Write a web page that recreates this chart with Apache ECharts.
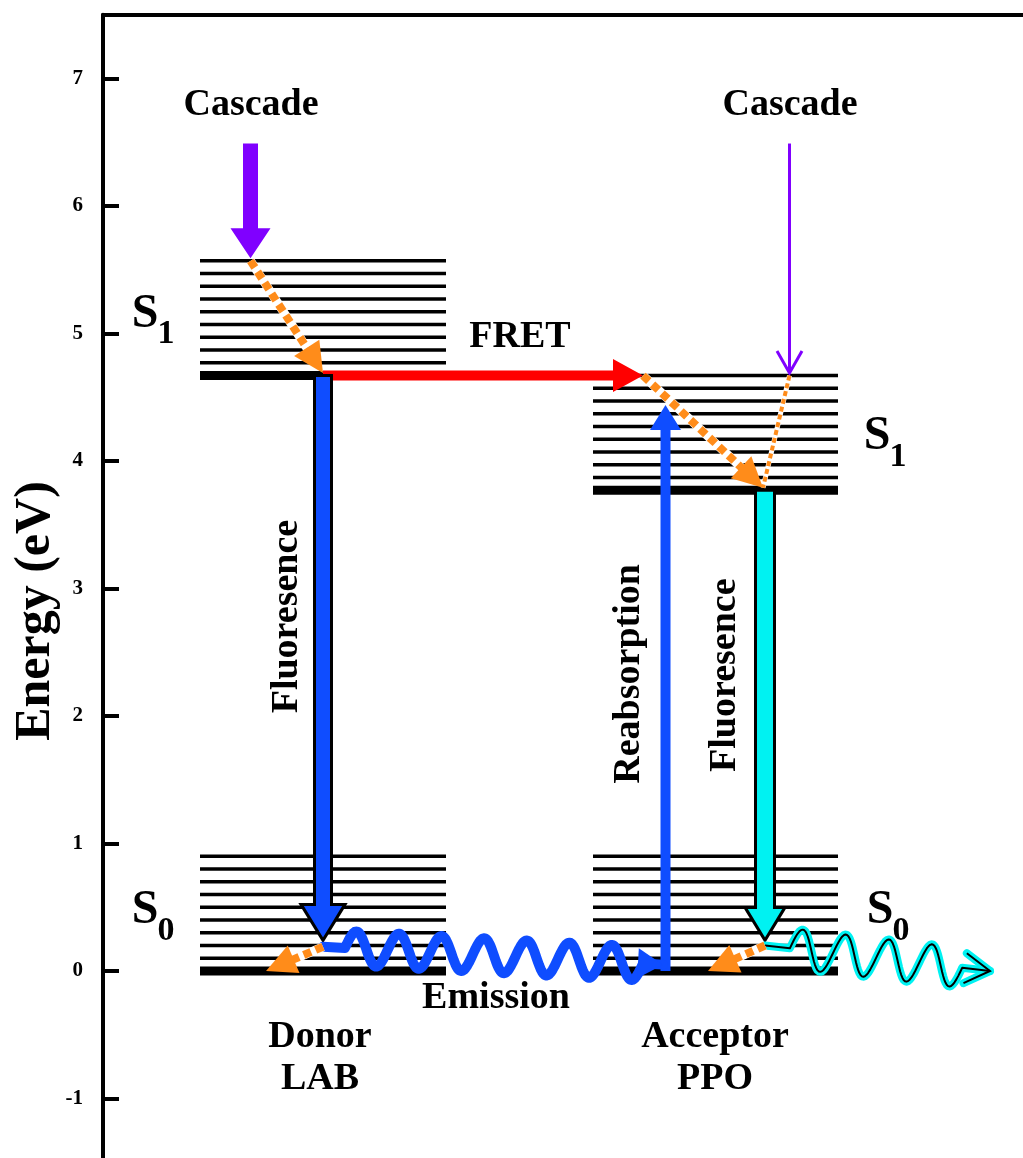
<!DOCTYPE html>
<html><head><meta charset="utf-8">
<script src="https://cdn.jsdelivr.net/npm/echarts@6/dist/echarts.min.js"></script>
<style>html,body{margin:0;padding:0;background:#fff}#c{width:1023px;height:1158px}</style>
</head><body><div id="c"></div>
<script>
// ---------- data ----------
const yTicks = [-1, 0, 1, 2, 3, 4, 5, 6, 7];
const donorX = [0.97, 3.43];
const acceptorX = [4.90, 7.35];
const donorS1 = [4.67, 4.77, 4.87, 4.97, 5.07, 5.17, 5.27, 5.37, 5.47, 5.57];
const donorS0 = [0.00, 0.10, 0.20, 0.30, 0.40, 0.50, 0.60, 0.70, 0.80, 0.90];
const acceptorS1 = [3.77, 3.87, 3.97, 4.07, 4.17, 4.27, 4.37, 4.47, 4.57, 4.67];
const acceptorS0 = [0.00, 0.10, 0.20, 0.30, 0.40, 0.50, 0.60, 0.70, 0.80, 0.90];

// transitions: [xFrom, eFrom, xTo, eTo]
const cascadeDonor = [[1.475, 6.49, 1.475, 5.59]];
const cascadeAcceptor = [[6.865, 6.49, 6.865, 4.69]];
const fret = [[2.20, 4.67, 5.40, 4.67]];
const relaxation = [[1.475, 5.57, 2.20, 4.69], [5.40, 4.67, 6.60, 3.79], [2.20, 0.19, 1.63, 0.00], [6.62, 0.20, 6.05, 0.00]];
const relaxationThin = [[6.865, 4.67, 6.60, 3.79]];
const donorFluor = [[2.20, 4.67, 2.20, 0.24]];
const acceptorFluor = [[6.62, 3.77, 6.62, 0.24]];
const reabsorption = [[5.625, 0.00, 5.625, 4.44]];
const donorEmission = [[2.20, 0.19, 5.60, 0.05]];
const acceptorEmission = [[6.62, 0.20, 8.87, 0.00]];

const horizontalLabels = [['Cascade', 1.48, 6.79], ['Cascade', 6.87, 6.79], ['FRET', 4.17, 4.97], ['Emission', 3.93, -0.21],
  ['Donor', 2.17, -0.52], ['LAB', 2.17, -0.85], ['Acceptor', 6.12, -0.52], ['PPO', 6.12, -0.85]];
const verticalLabels = [['Fluoresence', 1.84, 2.78], ['Reabsorption', 5.26, 2.33], ['Fluoresence', 6.22, 2.32]];
const stateLabels = [['1', 0.42, 5.15], ['0', 0.42, 0.47], ['1', 7.74, 4.19], ['0', 7.77, 0.47]];

// ---------- drawing helpers ----------
const FONT = "'Liberation Serif','Times New Roman',serif";
function vec(p1, p2) { const dx = p2[0] - p1[0], dy = p2[1] - p1[1]; const L = Math.hypot(dx, dy); return { L, d: [dx / L, dy / L], n: [-dy / L, dx / L] }; }
function add(p, v, s) { return [p[0] + v[0] * s, p[1] + v[1] * s]; }
function ends(api) { return [api.coord([api.value(0), api.value(1)]), api.coord([api.value(2), api.value(3)])]; }
function arrowPts(p1, p2, w, hw, hl) {
  const { d, n } = vec(p1, p2); const b = add(p2, d, -hl);
  return [add(p1, n, w / 2), add(b, n, w / 2), add(b, n, hw / 2), p2, add(b, n, -hw / 2), add(b, n, -w / 2), add(p1, n, -w / 2)];
}
function headPts(p2, d, n, hw, hl) { const b = add(p2, d, -hl); return [add(b, n, hw / 2), p2, add(b, n, -hw / 2)]; }

function solidArrow(data, o) {
  return { type: 'custom', coordinateSystem: 'cartesian2d', silent: true, z: o.z, data,
    renderItem(params, api) {
      const [p1, p2] = ends(api);
      return { type: 'polygon', shape: { points: arrowPts(p1, p2, o.w, o.hw, o.hl) },
        style: { fill: o.color, stroke: o.outline || null, lineWidth: o.outline ? 3 : 0, lineJoin: 'miter' } };
    } };
}
function dashedArrow(data, o) {
  return { type: 'custom', coordinateSystem: 'cartesian2d', silent: true, z: o.z, data,
    renderItem(params, api) {
      const [p1, p2] = ends(api); const { d, n } = vec(p1, p2);
      const e = o.hl ? add(p2, d, -o.hl * 0.7) : p2;
      const ch = [
        { type: 'line', shape: { x1: p1[0], y1: p1[1], x2: e[0], y2: e[1] }, style: { stroke: '#fff', lineWidth: o.w + 1 } },
        { type: 'line', shape: { x1: p1[0], y1: p1[1], x2: e[0], y2: e[1] }, style: { stroke: '#ff8c1a', lineWidth: o.w, lineDash: o.dash } }
      ];
      if (o.hl) ch.push({ type: 'polygon', shape: { points: headPts(p2, d, n, o.hw, o.hl) }, style: { fill: '#ff8c1a' } });
      return { type: 'group', children: ch };
    } };
}
function openArrow(data, o) {
  return { type: 'custom', coordinateSystem: 'cartesian2d', silent: true, z: o.z, data,
    renderItem(params, api) {
      const [p1, p2] = ends(api); const { d, n } = vec(p1, p2);
      return { type: 'group', children: [
        { type: 'line', shape: { x1: p1[0], y1: p1[1], x2: p2[0], y2: p2[1] }, style: { stroke: o.color, lineWidth: o.w } },
        { type: 'polyline', shape: { points: headPts(p2, d, n, o.hw, o.hl) }, style: { stroke: o.color, lineWidth: o.w, fill: null, lineJoin: 'miter' } }
      ] };
    } };
}
function wavePts(p1, p2, lead, tail, period, amp) {
  const { L, d, n } = vec(p1, p2);
  const wl = L - lead - tail;
  const nHalf = Math.max(1, Math.round(wl / (period / 2)));
  const per = 2 * wl / nHalf;
  const pts = [p1, add(p1, d, lead)];
  const steps = Math.ceil(wl / 1.5);
  for (let i = 1; i <= steps; i++) {
    const s = wl * i / steps;
    pts.push(add(add(p1, d, lead + s), n, -amp * Math.sin(2 * Math.PI * s / per)));
  }
  pts.push(p2);
  return pts;
}
function waveArrow(data, o) {
  return { type: 'custom', coordinateSystem: 'cartesian2d', silent: true, z: o.z, data,
    renderItem(params, api) {
      const [p1, p2] = ends(api); const { d, n } = vec(p1, p2);
      const pts = wavePts(p1, p2, o.lead, o.tail, o.period, o.amp);
      const head = headPts(p2, d, n, o.hw, o.hl);
      const ch = [{ type: 'polyline', shape: { points: pts }, style: { stroke: o.color, lineWidth: o.w, fill: null, lineJoin: 'round', lineCap: 'round' } }];
      if (o.open) {
        ch.push({ type: 'polyline', shape: { points: head }, style: { stroke: o.color, lineWidth: o.w, fill: null, lineJoin: 'round', lineCap: 'round' } });
        ch.push({ type: 'polyline', shape: { points: pts }, style: { stroke: '#000', lineWidth: 2, fill: null, lineJoin: 'round' } });
        ch.push({ type: 'polyline', shape: { points: head }, style: { stroke: '#000', lineWidth: 2, fill: null } });
      } else {
        ch.push({ type: 'polygon', shape: { points: head }, style: { fill: o.color } });
      }
      return { type: 'group', children: ch };
    } };
}
function levelSeries(levels, range) {
  return { type: 'custom', coordinateSystem: 'cartesian2d', silent: true, z: 2,
    data: levels.map(e => [range[0], e, range[1], e]),
    renderItem(params, api) {
      const [p1, p2] = ends(api);
      return { type: 'line', shape: { x1: p1[0], y1: p1[1], x2: p2[0], y2: p2[1] },
        style: { stroke: '#000', lineWidth: params.dataIndex === 0 ? 9 : 3.5 } };
    } };
}
function textSeries(labels, rotation) {
  return { type: 'custom', coordinateSystem: 'cartesian2d', silent: true, z: 20,
    data: labels.map(l => [l[1], l[2]]),
    renderItem(params, api) {
      const p = api.coord([api.value(0), api.value(1)]);
      return { type: 'text', x: p[0], y: p[1], rotation,
        style: { text: labels[params.dataIndex][0], fill: '#000', fontSize: 38, fontWeight: 'bold', fontFamily: FONT, align: 'center', verticalAlign: 'middle' } };
    } };
}
function stateSeries(labels) {
  return { type: 'custom', coordinateSystem: 'cartesian2d', silent: true, z: 20,
    data: labels.map(l => [l[1], l[2]]),
    renderItem(params, api) {
      const p = api.coord([api.value(0), api.value(1)]);
      return { type: 'group', children: [
        { type: 'text', x: p[0], y: p[1], style: { text: 'S', fill: '#000', fontSize: 48, fontWeight: 'bold', fontFamily: FONT, align: 'center', verticalAlign: 'middle' } },
        { type: 'text', x: p[0] + 21, y: p[1] + 20, style: { text: labels[params.dataIndex][0], fill: '#000', fontSize: 34, fontWeight: 'bold', fontFamily: FONT, align: 'center', verticalAlign: 'middle' } }
      ] };
    } };
}

const chart = echarts.init(document.getElementById('c'), null, { renderer: 'canvas' });
chart.setOption({
  animation: false,
  backgroundColor: '#fff',
  grid: { left: 103, top: 14.75, right: -20, bottom: -4.25, containLabel: false, outerBoundsMode: 'none' },
  xAxis: { type: 'value', min: 0, max: 9.4, position: 'top',
    axisLine: { show: true, onZero: false, lineStyle: { color: '#000', width: 4 } },
    axisTick: { show: false }, axisLabel: { show: false }, splitLine: { show: false } },
  yAxis: { type: 'value', min: -1.5, max: 7.5,
    axisLine: { show: true, onZero: false, lineStyle: { color: '#000', width: 4 } },
    axisTick: { show: true, inside: true, length: 16, lineStyle: { color: '#000', width: 4 }, customValues: yTicks },
    axisLabel: { show: true, margin: 20, color: '#000', fontSize: 21, fontWeight: 'bold', fontFamily: FONT, customValues: yTicks },
    splitLine: { show: false } },
  graphic: [{ type: 'text', x: 36, y: 611, rotation: Math.PI / 2,
    style: { text: 'Energy (eV)', fill: '#000', fontSize: 50, fontWeight: 'bold', fontFamily: FONT, align: 'center', verticalAlign: 'middle' } }],
  series: [
    levelSeries(donorS1, donorX), levelSeries(donorS0, donorX),
    levelSeries(acceptorS1, acceptorX), levelSeries(acceptorS0, acceptorX),
    solidArrow(cascadeDonor, { color: '#8000ff', w: 15, hw: 40, hl: 30, z: 5 }),
    openArrow(cascadeAcceptor, { color: '#8000ff', w: 3, hw: 25, hl: 22, z: 5 }),
    solidArrow(fret, { color: '#ff0000', w: 10, hw: 33, hl: 30, z: 6 }),
    solidArrow(donorFluor, { color: '#0f4dff', outline: '#000', w: 17, hw: 44, hl: 36, z: 7 }),
    solidArrow(acceptorFluor, { color: '#00f2f2', outline: '#000', w: 19, hw: 40, hl: 33, z: 7 }),
    solidArrow(reabsorption, { color: '#0f4dff', w: 10, hw: 31, hl: 25, z: 6 }),
    waveArrow(donorEmission, { color: '#0f4dff', w: 10, lead: 22, tail: 20, period: 42, amp: 17, hw: 30, hl: 25, z: 8 }),
    waveArrow(acceptorEmission, { color: '#00f2f2', w: 8, lead: 25, tail: 28, period: 43, amp: 20, hw: 30, hl: 25, open: true, z: 8 }),
    dashedArrow(relaxationThin, { w: 4, dash: [5, 3], z: 9 }),
    dashedArrow(relaxation, { w: 8, dash: [8, 5], hw: 30, hl: 30, z: 10 }),
    textSeries(horizontalLabels, 0),
    textSeries(verticalLabels, Math.PI / 2),
    stateSeries(stateLabels)
  ]
});
</script>
</body></html>
